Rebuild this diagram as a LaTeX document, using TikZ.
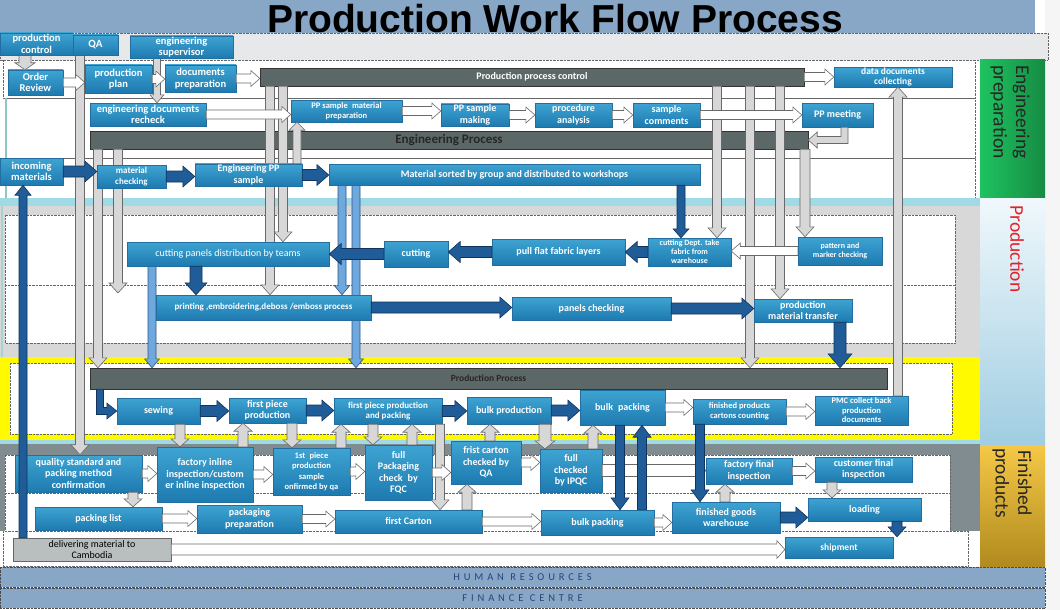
\documentclass[tikz,border=0pt]{standalone}
\usepackage{fontspec}
\setmainfont{Carlito}
\newfontfamily\titlefont{Liberation Sans}
\usetikzlibrary{calc}

\definecolor{boxtop}{RGB}{62,164,210}
\definecolor{boxbot}{RGB}{30,122,176}
\definecolor{boxline}{RGB}{35,110,160}
\definecolor{barfill}{RGB}{92,104,104}
\definecolor{dkfill}{RGB}{31,92,152}
\definecolor{dkline}{RGB}{18,52,92}
\definecolor{ltfill}{RGB}{111,168,220}
\definecolor{ltline}{RGB}{45,85,135}
\definecolor{grfill}{RGB}{215,215,215}
\definecolor{grline}{RGB}{105,105,105}
\definecolor{bandblue}{RGB}{136,166,198}
\definecolor{hrtext}{RGB}{40,70,120}
\definecolor{hdgray}{RGB}{230,232,234}
\definecolor{frgray}{RGB}{216,216,216}
\definecolor{fingray}{RGB}{128,140,143}
\definecolor{ylw}{RGB}{255,250,0}
\definecolor{cyanband}{RGB}{160,218,228}
\definecolor{delgray}{RGB}{185,190,190}

\pgfdeclarelayer{bg}
\pgfdeclarelayer{shafts}
\pgfsetlayers{bg,shafts,main}

% outline of a block arrow from p3 to p4
\newcommand\blkbody{%
  ({\x3-\sw*(\n3)}, {\y3+\sw*(\n2)})
  -- ({\x4-\hl*(\n2)-\sw*(\n3)}, {\y4-\hl*(\n3)+\sw*(\n2)})
  -- ({\x4-\hl*(\n2)-\hw*(\n3)}, {\y4-\hl*(\n3)+\hw*(\n2)})
  -- (\x4,\y4)
  -- ({\x4-\hl*(\n2)+\hw*(\n3)}, {\y4-\hl*(\n3)-\hw*(\n2)})
  -- ({\x4-\hl*(\n2)+\sw*(\n3)}, {\y4-\hl*(\n3)-\sw*(\n2)})
  -- ({\x3+\sw*(\n3)}, {\y3-\sw*(\n2)}) -- cycle}
% horizontal connector at the height of #2
\newcommand\hconn[3][warr]{%
  \draw[#1] let \p1=#2, \p2=#3, \p3=(\x1,\y1), \p4=(\x2,\y1),
      \n1={veclen(\x4-\x3,\y4-\y3)}, \n2={(\x4-\x3)/\n1}, \n3={(\y4-\y3)/\n1}
    in \blkbody;}
% vertical connector at x=#2
\newcommand\vconn[4][garr]{%
  \draw[#1] let \p1=#3, \p2=#4, \p3=(#2pt,\y1), \p4=(#2pt,\y2),
      \n1={veclen(\x4-\x3,\y4-\y3)}, \n2={(\x4-\x3)/\n1}, \n3={(\y4-\y3)/\n1}
    in \blkbody;}

\tikzset{
  blk/.code n args={3}{\def\sw{#1}\def\hw{#2}\def\hl{#3}},
  warr/.style={draw=grline, fill=white, line width=0.6pt, blk={4.5}{8}{9}},
  garr/.style={draw=grline, fill=grfill, line width=0.6pt, blk={4.5}{9}{10}},
  sarr/.style={draw=grline, fill=grfill, line width=0.6pt, blk={5}{9}{8}},
  darr/.style={draw=dkline, fill=dkfill, line width=0.6pt, blk={5.5}{10.5}{12}},
  larr/.style={draw=ltline, fill=ltfill, line width=0.6pt, blk={4}{7.5}{9}},
  dims/.style 2 args={minimum width=#1, minimum height=#2},
  box/.style={draw=boxline, line width=0.4pt, top color=boxtop, bottom color=boxbot,
    text=white, align=center, inner sep=1pt},
  bar/.style={draw=black!80, fill=barfill, inner sep=0pt},
  txtL/.style={font=\bfseries\fontsize{10.5}{11.5}\selectfont},
  txtM/.style={font=\bfseries\fontsize{10}{11.5}\selectfont},
  txtS/.style={font=\bfseries\fontsize{9}{10.5}\selectfont},
  txtXS/.style={font=\bfseries\fontsize{8.5}{10}\selectfont},
  dots/.style={densely dotted, draw=black!60},
  band/.style={draw=black!70, densely dotted, fill=bandblue, dims={1045}{20}, inner sep=0pt,
    text=hrtext, font=\fontsize{10.5}{11}\selectfont\addfontfeatures{LetterSpace=37}},
  side/.style={rotate=-90, align=center, font=\fontsize{19.5}{22.5}\selectfont}
}

\begin{document}
\begin{tikzpicture}[x=1pt, y=-1pt]
\useasboundingbox (0,0) rectangle (1060,610);

% background and process bars
\begin{pgfonlayer}{bg}
  \fill[white] (0,0) rectangle (1060,610);
  \fill[gray!8] (1045,0) rectangle (1060,610);
  \fill[bandblue] (0,0) rectangle (1035,33);
  \filldraw[fill=hdgray, dots] (0,33) rectangle (1048,60);
  \draw[dots] (3,60) rectangle (975,98);
  \draw[dots] (5,98) rectangle (975,158);
  \draw[dots] (5,158) rectangle (975,198);
  \draw[teal!45, line width=1.5pt] (6,98) -- (6,198);
  \fill[cyanband] (0,198) rectangle (980,206);
  \fill[frgray] (0,206) rectangle (980,357);
  \draw[teal!35, line width=1.5pt] (2,206) -- (2,357);
  \filldraw[fill=white, dots] (5,215) rectangle (955,343);
  \draw[dots] (5,285) -- (955,285);
  \fill[ylw] (0,357) rectangle (980,440);
  \filldraw[fill=white, dots] (10,363) rectangle (952,434);
  \fill[cyanband] (0,440) rectangle (980,444);
  \fill[fingray] (0,444) rectangle (980,531);
  \filldraw[fill=white, dots] (5,455) rectangle (950,493);
  \filldraw[fill=white, dots] (5,493) rectangle (950,531);
  \filldraw[fill=white, dots] (3,531) rectangle (968,566);
  \fill[left color={rgb,255:red,30;green,195;blue,95}, right color={rgb,255:red,22;green,140;blue,68}] (980,60) rectangle (1045,198);
  \fill[top color={rgb,255:red,240;green,248;blue,252}, bottom color={rgb,255:red,160;green,205;blue,225}] (980,198) rectangle (1045,445);
  \fill[top color={rgb,255:red,245;green,200;blue,70}, bottom color={rgb,255:red,176;green,138;blue,30}] (980,445) rectangle (1045,567);

  \node[bar, dims={544}{18}, text=white, font=\bfseries\fontsize{10}{11}\selectfont] (ppc) at (532,77) {Production process control};
  \node[bar, dims={718}{18}, text=black!85, font=\bfseries\fontsize{13}{14}\selectfont] (epbar) at (449,140) {Engineering Process};
  \node[bar, dims={797}{21}, text=black!85, font=\bfseries\fontsize{9.5}{11}\selectfont] (prbar) at (488.5,378.5) {Production Process};
\end{pgfonlayer}

% title and side labels
\node[font=\titlefont\bfseries\fontsize{39}{42}\selectfont, anchor=base] (title) at (555,33) {Production Work Flow Process};
\node[side, text=black!85] (englbl) at (1010,112) {Engineering\\preparation};
\node[side, text={rgb,255:red,228;green,32;blue,40}] (prodlbl) at (1017,249) {Production};
\node[side, text=black!85] (finlbl) at (1012,483) {Finished\\products};
\node[band] (hr) at (522.5,577) {HUMAN RESOURCES};
\node[band] (fin) at (522.5,598) {FINANCE CENTRE};

% engineering preparation
\node[box, dims={73}{22}, txtL] (pctl) at (36.5,44) {production\\control};
\node[box, dims={45}{20}, font=\bfseries\fontsize{11}{12}\selectfont] (qa) at (95.5,45) {QA};
\node[box, dims={103}{22}, txtL] (esup) at (181.5,47) {engineering\\supervisor};
\node[box, dims={55}{25}, txtL] (orev) at (35.5,82.5) {Order\\Review};
\node[box, dims={67}{28}, txtL] (pplan) at (118.5,79) {production\\plan};
\node[box, dims={71}{27}, txtL] (dprep) at (200.5,78.5) {documents\\preparation};
\node[box, dims={118}{18}, font=\bfseries\fontsize{9.5}{9.5}\selectfont] (ddoc) at (893,77) {data documents\\collecting};
\node[box, dims={116}{23}, txtL] (edoc) at (148,114.5) {engineering documents\\recheck};
\node[box, dims={111}{22}, txtXS] (ppmat) at (346.5,111) {PP sample\enspace material\\preparation};
\node[box, dims={68}{22}, txtM] (ppmake) at (475,115) {PP sample\\making};
\node[box, dims={77}{24}, txtM] (proc) at (573.5,115) {procedure\\analysis};
\node[box, dims={67}{24}, txtM] (scom) at (666.5,115) {sample\\comments};
\node[box, dims={71}{24}, txtM] (ppmeet) at (837.5,115) {PP meeting};
\node[box, dims={63}{27}, txtL] (inc) at (31.5,171.5) {incoming\\materials};
\node[box, dims={69}{23}, txtS] (mchk) at (131.5,176.5) {material\\checking};
\node[box, dims={107}{22}, txtM] (epps) at (248.5,175) {Engineering PP\\sample};
\node[box, dims={371}{21}, txtM] (msort) at (514.5,174.5) {Material sorted by group and distributed to workshops};

% production
\node[box, dims={202}{24}, font=\fontsize{10}{11}\selectfont] (cpd) at (228,254) {cutting panels distribution by teams};
\node[box, dims={64}{26}, txtM] (cut) at (416,254) {cutting};
\node[box, dims={133}{26}, txtM] (pull) at (558.5,252) {pull flat fabric layers};
\node[box, dims={83}{28}, font=\bfseries\fontsize{8}{9}\selectfont] (cdept) at (689.5,252) {cutting Dept. take\\fabric from\\warehouse};
\node[box, dims={84}{28}, font=\bfseries\fontsize{8}{9.5}\selectfont] (pmc) at (840,251) {pattern and\\marker checking};
\node[box, dims={215}{25}, txtS] (print) at (263.5,307.5) {printing ,embroidering,deboss /emboss process};
\node[box, dims={159}{23}, txtM] (pchk) at (591.5,308.5) {panels checking};
\node[box, dims={98}{23}, font=\bfseries\fontsize{10}{11}\selectfont] (pmt) at (803,310.5) {production\\material transfer};
\coordinate (end118) at (118,293);

% production process
\node[box, dims={83}{26}, txtM] (sew) at (158.5,411) {sewing};
\node[box, dims={77}{25}, txtM] (fpp) at (267.5,410.5) {first piece\\production};
\node[box, dims={108}{26}, txtS] (fppk) at (388,411) {first piece production\\and packing};
\node[box, dims={84}{27}, txtM] (bprod) at (509,410.5) {bulk production};
\node[box, dims={85}{35}, txtM] (bpack) at (622.5,407.5) {bulk\enspace packing};
\node[box, dims={93}{25}, txtXS] (fpcc) at (739.5,411.5) {finished products\\cartons counting};
\node[box, dims={93}{29}, font=\bfseries\fontsize{8.5}{9.5}\selectfont] (pmcb) at (861.5,410.5) {PMC collect back\\production\\documents};

% finished products
\node[box, dims={127}{37}, txtM] (qstd) at (78.5,473.5) {quality standard and\\packing method\\confirmation};
\node[box, dims={96}{55}, txtM] (finl) at (205,474.5) {factory inline\\inspection/custom\\er inline inspection};
\node[box, dims={77}{47}, font=\bfseries\fontsize{8.5}{10.5}\selectfont] (fps) at (311.5,471.5) {1st\enspace piece\\production\\sample\\onfirmed by qa};
\node[box, dims={67}{55}, txtM] (fpk) at (398.5,472.5) {full\\Packaging\\check\enspace by\\FQC};
\node[box, dims={70}{43}, txtM] (fcc) at (486,462.5) {frist carton\\checked by\\QA};
\node[box, dims={62}{43}, txtM] (fci) at (571,470.5) {full\\checked\\by IPQC};
\node[box, dims={86}{26}, txtM] (ffi) at (749,471) {factory final\\inspection};
\node[box, dims={97}{25}, txtM] (cfi) at (863.5,469.5) {customer final\\inspection};
\node[box, dims={127}{23}, txtM] (plist) at (98.5,518.5) {packing list};
\node[box, dims={105}{28}, txtM] (pprep) at (249.5,519) {packaging\\preparation};
\node[box, dims={147}{23}, txtM] (fcart) at (408.5,521.5) {first Carton};
\node[box, dims={113}{25}, txtM] (bpack2) at (597.5,522.5) {bulk packing};
\node[box, dims={108}{31}, txtM] (fgw) at (726,517.5) {finished goods\\warehouse};
\node[box, dims={113}{23}, txtM] (load) at (864.5,509.5) {loading};
\node[draw=black!60, fill=delgray, dims={158}{23}, align=center, inner sep=1pt, font=\fontsize{10}{11}\selectfont] (deliv) at (92,549.5) {delivering material to\\Cambodia};
\node[box, dims={108}{21}, font=\bfseries\fontsize{9.5}{10}\selectfont] (ship) at (839,547.5) {shipment};

% long vertical connectors
\begin{pgfonlayer}{shafts}
  \vconn[garr, blk={6}{10}{7}]{25}{(pctl.south)}{(orev.north)}
  \vconn{80}{(qa.south)}{(qstd.north)}
  \vconn[garr, blk={3.5}{7}{8}]{157}{(esup.south)}{(edoc.north)}
  \vconn{98}{(epbar.south)}{(prbar.north)}
  \vconn{118}{(epbar.south)}{(end118)}
  \vconn{270}{(ppc.south)}{(print.north)}
  \vconn{283}{(ppc.south)}{(cpd.north)}
  \vconn{717}{(ppc.south)}{(cdept.north)}
  \vconn{750}{(ppc.south)}{(prbar.north)}
  \vconn{780}{(ppc.south)}{(pmt.north)}
  \vconn[garr, blk={5}{9}{10}]{805}{(epbar.south)}{(pmc.north)}
  \vconn[larr]{342}{(msort.south)}{(print.north)}
  \vconn[larr]{356}{(msort.south)}{(prbar.north)}
  \vconn[larr]{152}{(cpd.south)}{(prbar.north)}
\end{pgfonlayer}

% engineering preparation connectors
\hconn{(orev.east)}{(pplan.west)}
\hconn{(pplan.east)}{(dprep.west)}
\hconn{(dprep.east)}{(ppc.west)}
\hconn{(ppc.east)}{(ddoc.west)}
\hconn{(edoc.east)}{(ppmat.west)}
\hconn{(ppmat.east)}{(ppmake.west)}
\hconn{(ppmake.east)}{(proc.west)}
\hconn{(proc.east)}{(scom.west)}
\hconn{(scom.east)}{(ppmeet.west)}
\vconn[garr, blk={4}{8}{8}]{297}{(epps.north)}{(ppmat.south)}
\draw[draw=grline, fill=grfill, line width=0.6pt]
  let \p1=(ppmeet.south), \p2=(epbar.east) in
  (841pt,\y1) -- (848pt,\y1) -- (848pt,\y2-3.5pt) -- (\x2+9pt,\y2-3.5pt) -- (\x2+9pt,\y2-8pt)
  -- (\x2,\y2) -- (\x2+9pt,\y2+8pt) -- (\x2+9pt,\y2+3.5pt) -- (841pt,\y2+3.5pt) -- cycle;
\hconn[darr]{(inc.east)}{(mchk.west)}
\hconn[darr]{(mchk.east)}{(epps.west)}
\hconn[darr]{(epps.east)}{(msort.west)}

% production connectors
\vconn[darr, blk={4}{8}{9}]{681}{(msort.south)}{(cdept.north)}
\hconn{(pmc.west)}{(cdept.east)}
\hconn[darr]{(cdept.west)}{(pull.east)}
\hconn[darr]{(pull.west)}{(cut.east)}
\hconn[darr]{(cut.west)}{(cpd.east)}
\vconn[darr, blk={6}{11}{12}]{196}{(cpd.south)}{(print.north)}
\hconn[darr]{(print.east)}{(pchk.west)}
\hconn[darr]{(pchk.east)}{(pmt.west)}
\vconn[darr, blk={6}{12}{14}]{840}{(pmt.south)}{(prbar.north)}

% production process connectors
\draw[draw=dkline, fill=dkfill, line width=0.6pt]
  let \p1=(prbar.south), \p2=(sew.west) in
  (96.5pt,\y1) -- (103.5pt,\y1) -- (103.5pt,\y2+3.5pt) -- (\x2-10pt,\y2+3.5pt) -- (\x2-10pt,\y2+8pt)
  -- (\x2,\y2) -- (\x2-10pt,\y2-8pt) -- (\x2-10pt,\y2-3.5pt) -- (96.5pt,\y2-3.5pt) -- cycle;
\hconn[darr]{(sew.east)}{(fpp.west)}
\hconn[darr]{(fpp.east)}{(fppk.west)}
\hconn[darr]{(fppk.east)}{(bprod.west)}
\hconn[darr]{(bprod.east)}{(bpack.west)}
\hconn{(bpack.east)}{(fpcc.west)}
\hconn{(fpcc.east)}{(pmcb.west)}
\vconn{898}{(pmcb.north)}{(ddoc.south)}

% finished products connectors
\vconn[sarr]{180}{(sew.south)}{(finl.north)}
\vconn[sarr]{243}{(finl.north)}{(fpp.south)}
\vconn[sarr]{292}{(fpp.south)}{(fps.north)}
\vconn[sarr]{341}{(fps.north)}{(fppk.south)}
\vconn[sarr]{373}{(fppk.south)}{(fpk.north)}
\vconn[sarr]{412}{(fpk.north)}{(fppk.south)}
\vconn{440}{(fppk.south)}{(fcart.north)}
\vconn[sarr]{467}{(fcart.north)}{(fcc.south)}
\vconn[sarr]{490}{(fcc.north)}{(bprod.south)}
\vconn[sarr, blk={6}{10}{8}]{545}{(bprod.south)}{(fci.north)}
\vconn[sarr]{593}{(fci.north)}{(bpack.south)}
\vconn[sarr]{725}{(fgw.north)}{(ffi.south)}
\vconn[sarr]{832}{(cfi.south)}{(load.north)}
\vconn[sarr]{133}{(qstd.south)}{(plist.north)}
\hconn{(qstd.east)}{(finl.west)}
\hconn{(finl.east)}{(fps.west)}
\hconn{(fps.east)}{(fpk.west)}
\hconn{(fpk.east)}{(fcc.west)}
\hconn{(fcc.east)}{(fci.west)}
\hconn[warr, blk={6}{12}{10}]{(fci.east)}{(ffi.west)}
\hconn{(ffi.east)}{(cfi.west)}
\hconn{(plist.east)}{(pprep.west)}
\hconn{(pprep.east)}{(fcart.west)}
\hconn{(fcart.east)}{(bpack2.west)}
\hconn{(bpack2.east)}{(fgw.west)}
\hconn[warr, blk={5.5}{9}{8}]{(deliv.east)}{(ship.west)}
\vconn[darr, blk={4.5}{9}{12}]{620}{(bpack.south)}{(bpack2.north)}
\vconn[darr, blk={4.5}{9}{12}]{642}{(bpack2.north)}{(bpack.south)}
\vconn[darr, blk={4.5}{9}{12}]{700}{(fpcc.south)}{(fgw.north)}
\hconn[darr]{(fgw.east)}{(load.west)}
\vconn[darr, blk={5}{9}{10}]{897}{(load.south)}{(ship.north)}
\vconn[darr, blk={4}{8}{10}]{23}{(deliv.north)}{(inc.south)}

\end{tikzpicture}
\end{document}
